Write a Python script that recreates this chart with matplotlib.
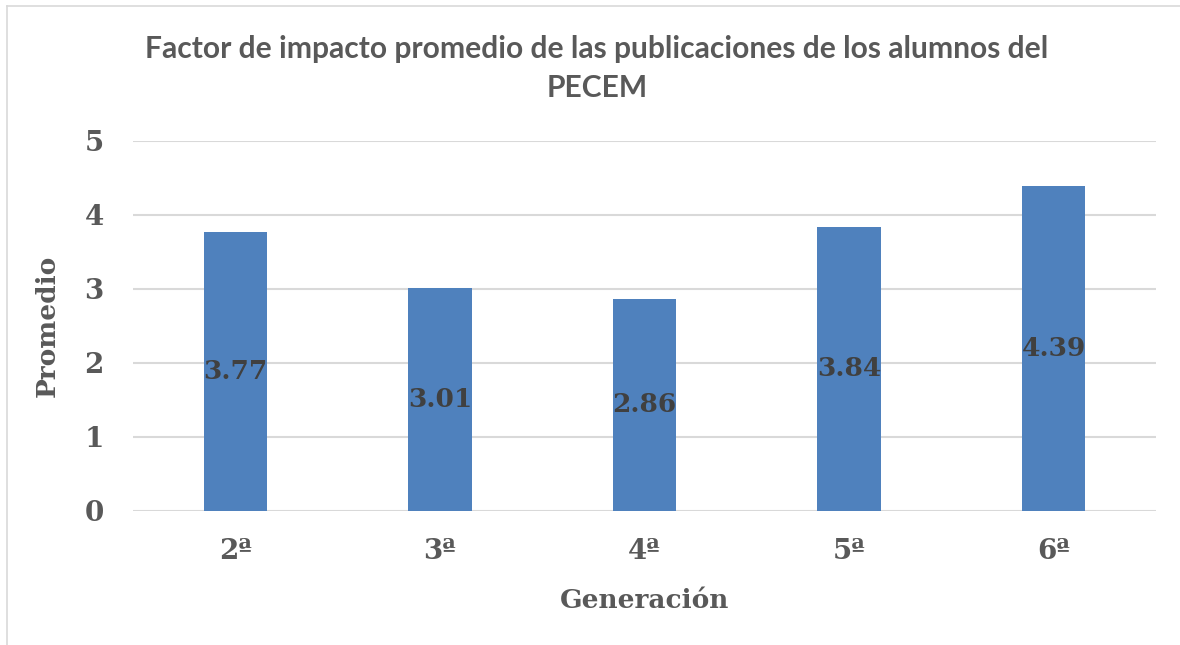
import matplotlib
matplotlib.use("Agg")
import matplotlib.pyplot as plt
from matplotlib.lines import Line2D

# Datos
generaciones = ["2ª", "3ª", "4ª", "5ª", "6ª"]
promedios = [3.77, 3.01, 2.86, 3.84, 4.39]
yticks = [0, 1, 2, 3, 4, 5]

W, H = 1180, 645


def create_bar_chart():
    fig = plt.figure(figsize=(W / 100, H / 100), dpi=100)
    fig.patch.set_facecolor("white")

    # marco del gráfico (solo visible arriba e izquierda)
    fig.add_artist(Line2D([7 / W, 7 / W], [0, 1 - 6 / H], color="#d9d9d9", lw=1.2,
                          transform=fig.transFigure))
    fig.add_artist(Line2D([7 / W, 1], [1 - 6 / H, 1 - 6 / H], color="#d9d9d9", lw=1.2,
                          transform=fig.transFigure))

    left, right = 133 / W, 1156 / W
    bottom, top = 1 - 510.7 / H, 1 - 140.7 / H
    ax = fig.add_axes([left, bottom, right - left, top - bottom])

    x = range(len(generaciones))
    bars = ax.bar(x, promedios, width=0.31, color="#4f81bd", zorder=3)

    ax.set_xlim(-0.5, len(generaciones) - 0.5)
    ax.set_ylim(0, 5)
    ax.set_yticks(yticks)
    ax.set_xticks(list(x))
    ax.set_xticklabels(generaciones)

    ax.grid(axis="y", color="#d9d9d9", linewidth=1.5, zorder=0)
    for s in ax.spines.values():
        s.set_visible(False)

    serif = {"family": "DejaVu Serif", "weight": "bold"}
    ax.tick_params(length=0, colors="#595959")
    ax.tick_params(axis="y", pad=21)
    ax.tick_params(axis="x", pad=20)
    for lbl in ax.get_xticklabels() + ax.get_yticklabels():
        lbl.set_fontproperties(serif)
        lbl.set_fontsize(20)

    ax.bar_label(bars, labels=[f"{v:.2f}" for v in promedios], label_type="center",
                 color="#404040", fontsize=19, **serif)

    ax.set_xlabel("Generación", fontsize=19, color="#595959", **serif)
    ax.set_ylabel("Promedio", fontsize=19, color="#595959", **serif)
    ax.xaxis.set_label_coords(0.5, (510.7 - 600) / 370)
    ax.xaxis.label.set_va("center")
    ax.yaxis.set_label_coords((47 - 133) / 1023, 0.5)
    ax.yaxis.label.set_va("center")

    # título en dos líneas
    tkw = dict(ha="center", va="center", fontsize=21.6, fontweight="bold",
               color="#595959", family="Lato")
    fig.text(597 / W, 1 - 49 / H,
             "Factor de impacto promedio de las publicaciones de los alumnos del", **tkw)
    fig.text(597 / W, 1 - 88 / H, "PECEM", **tkw)

    fig.savefig("out.png", dpi=100)


if __name__ == "__main__":
    create_bar_chart()
